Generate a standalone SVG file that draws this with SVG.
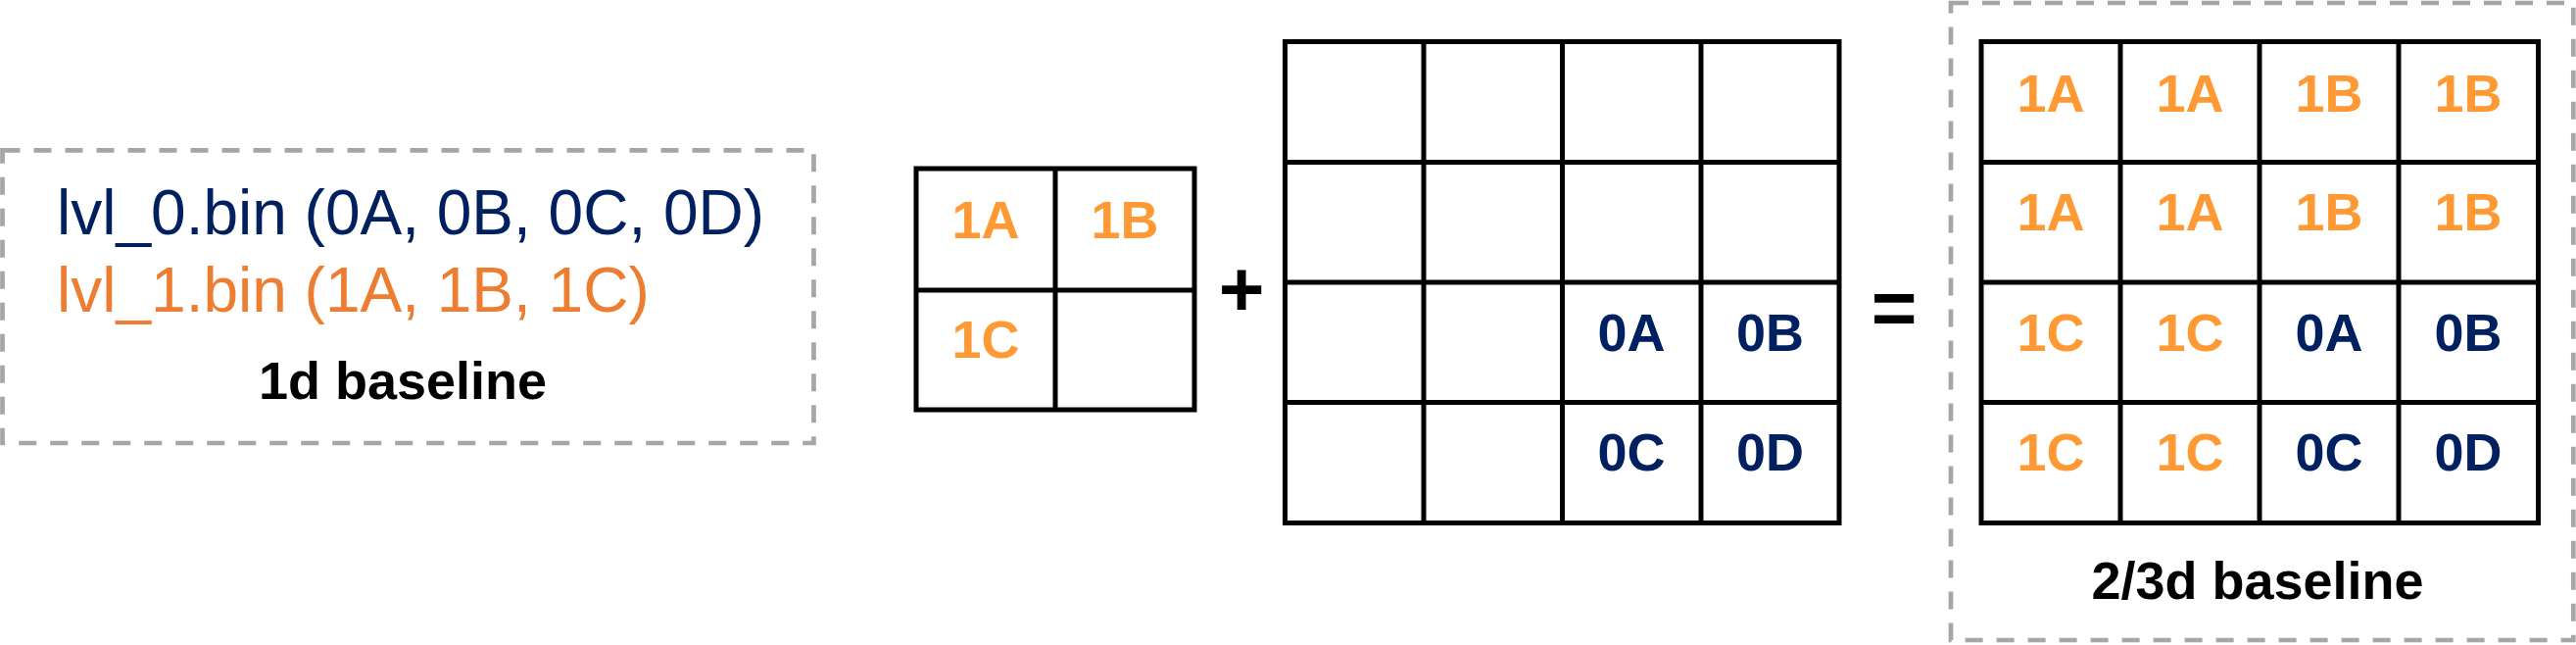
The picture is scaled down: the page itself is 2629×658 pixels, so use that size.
<svg xmlns="http://www.w3.org/2000/svg" width="2629" height="658" viewBox="0 0 2629 658">
<style>
.bg{fill:#ffffff}
.dash{fill:none;stroke:#A6A6A6;stroke-width:4.7;stroke-dasharray:18 14}
.cell{fill:none;stroke:#000000;stroke-width:5}
.lbl{font-family:"Liberation Sans",Arial,sans-serif;font-weight:bold;font-size:54px;text-anchor:middle}
.o{fill:#FF9933}
.n{fill:#002060}
.file{font-family:"Liberation Sans",Arial,sans-serif;font-size:64px}
.cap{font-family:"Liberation Sans",Arial,sans-serif;font-weight:bold;font-size:54px;text-anchor:middle;fill:#000000}
.op{font-family:"Liberation Sans",Arial,sans-serif;font-weight:bold;font-size:80px;text-anchor:middle;fill:#000000}
</style>
<rect class="bg" x="0" y="0" width="2629" height="658"/>

<g id="baseline-1d">
  <rect class="dash" x="2.5" y="153.3" width="828" height="298.7"/>
  <text class="file" x="58" y="239" fill="#002060">lvl_0.bin (0A, 0B, 0C, 0D)</text>
  <text class="file" x="58" y="318" fill="#ED7D31">lvl_1.bin (1A, 1B, 1C)</text>
  <text class="cap" x="411" y="407">1d baseline</text>
</g>

<g id="grid-lvl1">
  <rect class="cell" x="935" y="172" width="284" height="246"/>
  <line class="cell" x1="1077" y1="172" x2="1077" y2="418"/>
  <line class="cell" x1="935" y1="296" x2="1219" y2="296"/>
  <text class="lbl o" x="1006" y="243">1A</text>
  <text class="lbl o" x="1148" y="243">1B</text>
  <text class="lbl o" x="1006" y="365">1C</text>
</g>

<g id="plus">
  <text class="op" x="1267" y="322">+</text>
</g>

<g id="grid-lvl0">
  <rect class="cell" x="1311.5" y="42.5" width="565.5" height="491"/>
  <line class="cell" x1="1453" y1="42.5" x2="1453" y2="533.5"/>
  <line class="cell" x1="1594.5" y1="42.5" x2="1594.5" y2="533.5"/>
  <line class="cell" x1="1736" y1="42.5" x2="1736" y2="533.5"/>
  <line class="cell" x1="1311.5" y1="165.5" x2="1877" y2="165.5"/>
  <line class="cell" x1="1311.5" y1="288" x2="1877" y2="288"/>
  <line class="cell" x1="1311.5" y1="410.5" x2="1877" y2="410.5"/>
  <text class="lbl n" x="1665" y="357.5">0A</text>
  <text class="lbl n" x="1806.5" y="357.5">0B</text>
  <text class="lbl n" x="1665" y="479.5">0C</text>
  <text class="lbl n" x="1806.5" y="479.5">0D</text>
</g>

<g id="equals">
  <text class="op" x="1933" y="341">=</text>
</g>

<g id="baseline-23d">
  <rect class="dash" x="1991" y="3" width="635.3" height="650"/>
  <rect class="cell" x="2022" y="42.5" width="568.5" height="491"/>
  <line class="cell" x1="2164" y1="42.5" x2="2164" y2="533.5"/>
  <line class="cell" x1="2306" y1="42.5" x2="2306" y2="533.5"/>
  <line class="cell" x1="2448" y1="42.5" x2="2448" y2="533.5"/>
  <line class="cell" x1="2022" y1="165.5" x2="2590.5" y2="165.5"/>
  <line class="cell" x1="2022" y1="288" x2="2590.5" y2="288"/>
  <line class="cell" x1="2022" y1="410.5" x2="2590.5" y2="410.5"/>
  <text class="lbl o" x="2093" y="113.5">1A</text>
  <text class="lbl o" x="2235" y="113.5">1A</text>
  <text class="lbl o" x="2377" y="113.5">1B</text>
  <text class="lbl o" x="2519" y="113.5">1B</text>
  <text class="lbl o" x="2093" y="235">1A</text>
  <text class="lbl o" x="2235" y="235">1A</text>
  <text class="lbl o" x="2377" y="235">1B</text>
  <text class="lbl o" x="2519" y="235">1B</text>
  <text class="lbl o" x="2093" y="357.5">1C</text>
  <text class="lbl o" x="2235" y="357.5">1C</text>
  <text class="lbl n" x="2377" y="357.5">0A</text>
  <text class="lbl n" x="2519" y="357.5">0B</text>
  <text class="lbl o" x="2093" y="479.5">1C</text>
  <text class="lbl o" x="2235" y="479.5">1C</text>
  <text class="lbl n" x="2377" y="479.5">0C</text>
  <text class="lbl n" x="2519" y="479.5">0D</text>
  <text class="cap" x="2304" y="611">2/3d baseline</text>
</g>

<g id="connectors"></g>
</svg>
